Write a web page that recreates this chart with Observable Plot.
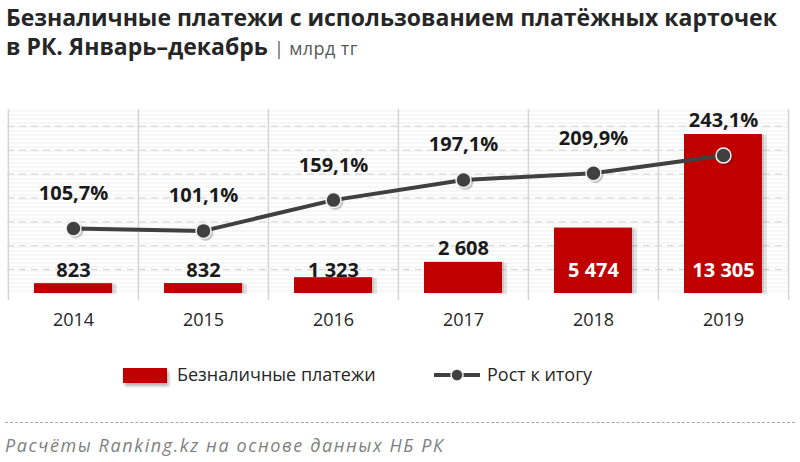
<!DOCTYPE html>
<html>
<head>
<meta charset="utf-8">
<script src="https://cdn.jsdelivr.net/npm/d3@7"></script>
<script src="https://cdn.jsdelivr.net/npm/@observablehq/plot@0.6"></script>
<style>
  body { margin: 0; width: 800px; height: 462px; background: #fff; position: relative; overflow: hidden; font-family: "Open Sans", "Noto Sans", sans-serif; color: #262626; }
  .title { position: absolute; left: 6px; font-weight: bold; font-size: 23px; white-space: nowrap; letter-spacing: 0px; line-height: 30px; }
  .unit { font-weight: normal; font-size: 18px; color: #595959; letter-spacing: 0.4px; }
  #chart { position: absolute; left: 0; top: 70px; }
  .legend { position: absolute; top: 362px; font-size: 18px; line-height: 24px; color: #262626; white-space: nowrap; }
  .sep { position: absolute; left: 5px; top: 422px; width: 790px; border-top: 1.5px dashed #a6a6a6; }
  .caption { position: absolute; left: 5px; top: 433px; font-style: italic; font-size: 18px; letter-spacing: 1.6px; color: #7f7f7f; white-space: nowrap; }
</style>
</head>
<body>
<div class="title" style="top:2px">Безналичные платежи с использованием платёжных карточек</div>
<div class="title" style="top:31px">в РК. Январь–декабрь <span class="unit">| млрд тг</span></div>
<div id="chart"></div>
<div class="legend" style="left:123px;">
  <span style="display:inline-block;width:44px;height:15px;background:#c00000;vertical-align:-2px;box-shadow:2px 3px 3px rgba(0,0,0,0.3);margin-right:10px"></span>Безналичные платежи
</div>
<div class="legend" style="left:433px;">
  <svg width="48" height="16" style="vertical-align:-2px;margin-right:6px"><line x1="1" y1="8" x2="47" y2="8" stroke="#404040" stroke-width="4"/><circle cx="24" cy="8" r="6" fill="#404040" stroke="#f2f2f2" stroke-width="1.5"/></svg>Рост к итогу
</div>
<div class="sep"></div>
<div class="caption">Расчёты Ranking.kz на основе данных НБ РК</div>
<script>
const years = ["2014", "2015", "2016", "2017", "2018", "2019"];
const payments = [823, 832, 1323, 2608, 5474, 13305];
const growth = [105.7, 101.1, 159.1, 197.1, 209.9, 243.1];
const gridTicks = [2000, 4000, 6000, 8000, 10000, 12000, 14000];

const yMax = 15400;
const pctDomain = [-17, 330];
const pctToY = d3.scaleLinear().domain(pctDomain).range([0, yMax]);

const loc = d3.formatLocale({decimal: ",", thousands: "\u00a0", grouping: [3], currency: ["", ""]});
const fmtInt = loc.format(",d");
const fmtPct = loc.format(".1f");

const data = years.map((year, i) => ({year, value: payments[i], growth: growth[i]}));

const step = (800 - 7 - 12) / years.length;
const labelFont = {fontSize: 20, fontWeight: "bold"};
const barInset = {insetLeft: 26, insetRight: 26};

const chart = Plot.plot({
  width: 800,
  height: 270,
  marginTop: 39,
  marginBottom: 47,
  marginLeft: 7,
  marginRight: 12,
  style: {fontFamily: "'Open Sans', 'Noto Sans', sans-serif", color: "#262626", overflow: "visible", background: "transparent"},
  x: {type: "band", domain: years, padding: 0, label: null},
  y: {domain: [0, yMax], axis: null},
  marks: [
    Plot.frame({fill: "url(#hatch)"}),
    Plot.ruleY(gridTicks, {stroke: "#d0d0d0", strokeWidth: 1, strokeDasharray: "7,5"}),
    Plot.ruleX(years, {x: d => d, dx: -step / 2, stroke: "#d4d4d4", strokeWidth: 1.5, insetBottom: -7}),
    Plot.ruleX([years[years.length - 1]], {x: d => d, dx: step / 2, stroke: "#d4d4d4", strokeWidth: 1.5, insetBottom: -7}),
    // soft shadow under bars
    Plot.barY(data, {x: "year", y: "value", fill: "#000", fillOpacity: 0.10, ...barInset, dx: 5, dy: 1}),
    Plot.barY(data, {x: "year", y: "value", fill: "#000", fillOpacity: 0.10, ...barInset, dx: 2, dy: 0}),
    Plot.barY(data, {x: "year", y: "value", fill: "#c00000", ...barInset}),
    Plot.line(data, {x: "year", y: d => pctToY(d.growth), stroke: "#404040", strokeWidth: 4}),
    Plot.dot(data, {x: "year", y: d => pctToY(d.growth), r: 8, fill: "#000", fillOpacity: 0.2, dx: 2, dy: 2}),
    Plot.dot(data, {x: "year", y: d => pctToY(d.growth), r: 7.5, fill: "#404040", stroke: "#f2f2f2", strokeWidth: 1.5}),
    Plot.text(data, {x: "year", y: d => pctToY(d.growth), text: d => fmtPct(d.growth) + "%", dy: -35, fill: "#1a1a1a", ...labelFont}),
    Plot.text(data.filter(d => d.value < 2000), {x: "year", y: 0, text: d => fmtInt(d.value), dy: -23, fill: "#1a1a1a", ...labelFont}),
    Plot.text(data.filter(d => d.value >= 2000 && d.value < 5000), {x: "year", y: "value", text: d => fmtInt(d.value), dy: -14, fill: "#1a1a1a", ...labelFont}),
    Plot.text(data.filter(d => d.value >= 5000), {x: "year", y: 0, text: d => fmtInt(d.value), dy: -23, fill: "#ffffff", ...labelFont}),
    Plot.axisX({tickSize: 0, tickPadding: 20, fontSize: 18, fill: "#262626"})
  ]
});

const ns = "http://www.w3.org/2000/svg";
const defs = document.createElementNS(ns, "defs");
defs.innerHTML = '<pattern id="hatch" width="8" height="4" patternUnits="userSpaceOnUse"><rect width="8" height="4" fill="#ffffff"/><line x1="0" y1="0.5" x2="8" y2="0.5" stroke="#efefef" stroke-width="1"/></pattern>';
chart.insertBefore(defs, chart.firstChild);
document.getElementById("chart").appendChild(chart);
</script>
</body>
</html>
